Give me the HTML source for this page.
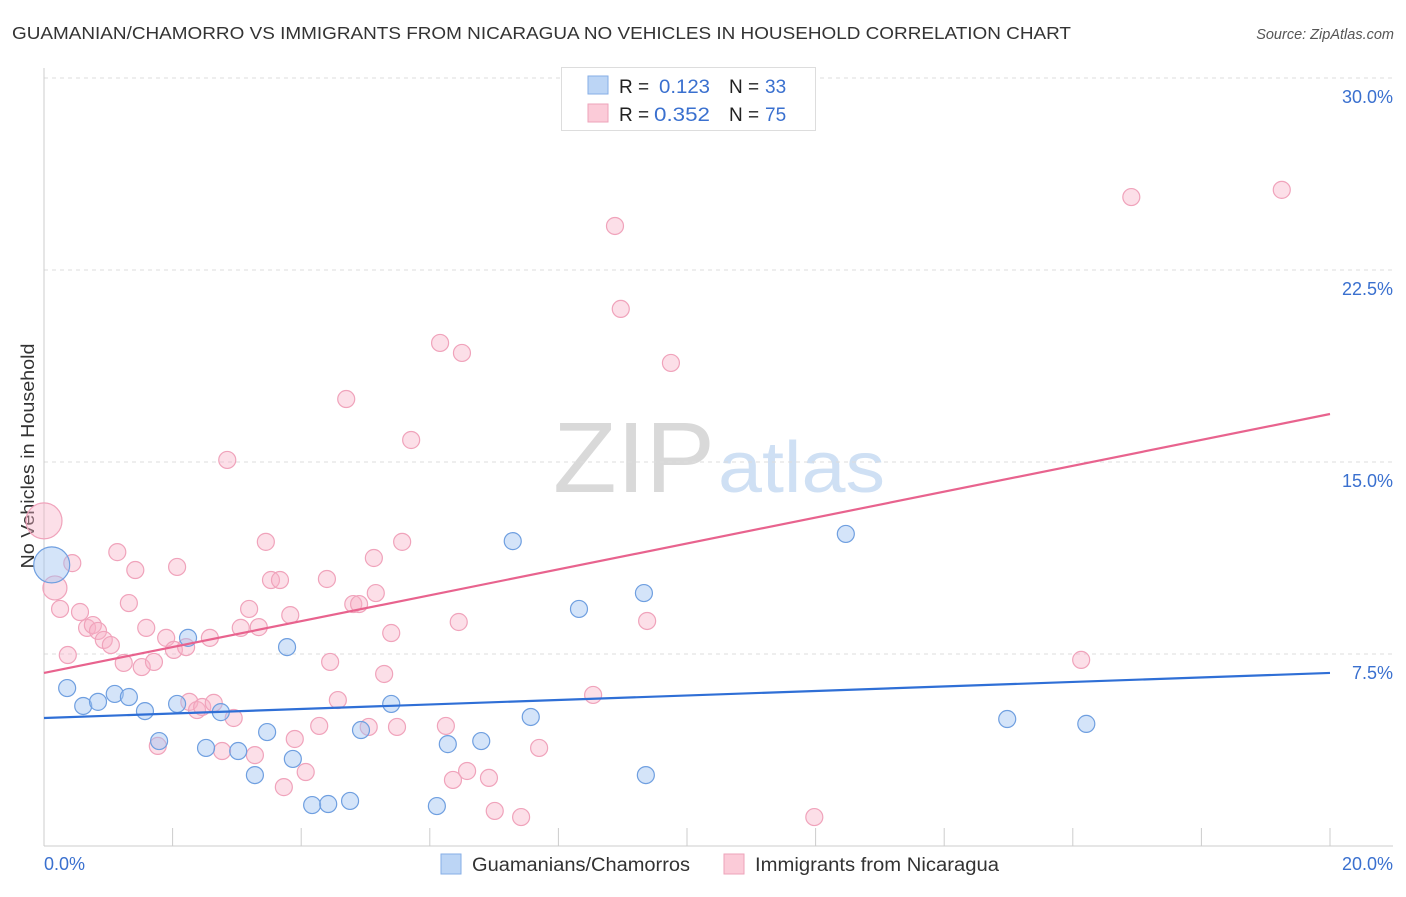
<!DOCTYPE html>
<html><head><meta charset="utf-8"><style>
body{margin:0;background:#fff;font-family:"Liberation Sans",sans-serif}
svg text{font-family:"Liberation Sans",sans-serif}
</style></head><body>
<svg id="chart" width="1406" height="892" viewBox="0 0 1406 892">
<text x="12" y="39" font-size="17.5" fill="#333" textLength="1059" lengthAdjust="spacingAndGlyphs">GUAMANIAN/CHAMORRO VS IMMIGRANTS FROM NICARAGUA NO VEHICLES IN HOUSEHOLD CORRELATION CHART</text>
<text x="1394" y="39" font-size="14.5" fill="#555" font-style="italic" text-anchor="end">Source: ZipAtlas.com</text>
<text transform="translate(34,456) rotate(-90)" font-size="18" fill="#333" text-anchor="middle" textLength="225" lengthAdjust="spacingAndGlyphs">No Vehicles in Household</text>
<g>
<text x="553" y="492" font-size="100" fill="#d9d9d9" font-family="Liberation Serif, serif" textLength="162" lengthAdjust="spacingAndGlyphs">ZIP</text>
<text x="718" y="492" font-size="72" fill="#cfe0f4" textLength="167" lengthAdjust="spacingAndGlyphs">atlas</text>
</g>
<g id="grid"></g>
<g id="axes"></g>
<g id="pts"></g>
<g id="trend"></g>
<g>
<rect x="561.5" y="67.5" width="254" height="63" fill="#fff" stroke="#ddd"/>
<rect x="588" y="76" width="20" height="18" fill="#bcd5f5" stroke="#86aee6"/>
<rect x="588" y="104" width="20" height="18" fill="#fbcbd8" stroke="#eea3ba"/>
<g font-size="19">
<text x="619" y="93" fill="#222">R =</text>
<text x="659" y="93" fill="#3a70cf" textLength="51" lengthAdjust="spacingAndGlyphs">0.123</text>
<text x="729" y="93" fill="#222">N =</text>
<text x="765" y="93" fill="#3a70cf">33</text>
<text x="619" y="121" fill="#222">R =</text>
<text x="654" y="121" fill="#3a70cf" textLength="56" lengthAdjust="spacingAndGlyphs">0.352</text>
<text x="729" y="121" fill="#222">N =</text>
<text x="765" y="121" fill="#3a70cf">75</text>
</g>
</g>
<g>
<rect x="441" y="854" width="20" height="20" fill="#bcd5f5" stroke="#86aee6"/>
<text x="472" y="871" font-size="19" fill="#333" textLength="218" lengthAdjust="spacingAndGlyphs">Guamanians/Chamorros</text>
<rect x="724" y="854" width="20" height="20" fill="#fbcbd8" stroke="#eea3ba"/>
<text x="755" y="871" font-size="19" fill="#333" textLength="244" lengthAdjust="spacingAndGlyphs">Immigrants from Nicaragua</text>
</g>
</svg>
<script>
const yTicks=[7.5,15,22.5,30];
const yTickLabels=["7.5%","15.0%","22.5%","30.0%"];
const xTickLabels=["0.0%","20.0%"];
const blueX=[0.12,0.36,0.61,0.84,1.10,1.32,1.57,1.79,2.07,2.24,2.52,2.75,3.02,3.28,3.47,3.78,3.87,4.17,4.42,4.76,4.93,5.40,6.11,6.28,6.80,7.29,7.57,8.32,9.33,9.36,12.47,14.98,16.21];
const blueY=[10.98,6.17,5.47,5.63,5.94,5.82,5.27,4.10,5.55,8.13,3.83,5.23,3.71,2.77,4.45,7.77,3.40,1.60,1.64,1.76,4.53,5.55,1.56,3.98,4.10,11.91,5.04,9.26,9.88,2.77,12.19,4.96,4.77];
const pinkX=[0,0.17,0.25,0.44,0.37,0.56,0.67,0.76,0.84,0.93,1.04,1.14,1.24,1.32,1.42,1.52,1.59,1.71,1.77,1.90,2.02,2.07,2.21,2.26,2.38,2.46,2.58,2.64,2.77,2.85,2.95,3.06,3.19,3.28,3.34,3.45,3.53,3.67,3.73,3.83,3.90,4.07,4.28,4.40,4.45,4.57,4.70,4.81,4.90,5.05,5.13,5.16,5.29,5.40,5.49,5.57,5.71,6.16,6.25,6.36,6.45,6.50,6.58,6.92,7.01,7.42,7.70,8.54,8.88,8.97,9.38,9.75,11.98,16.13,16.91,19.25];
const pinkY=[12.70,10.08,9.26,11.05,7.46,9.14,8.52,8.63,8.40,8.05,7.85,11.48,7.15,9.49,10.78,6.99,8.52,7.19,3.91,8.13,7.66,10.90,7.77,5.63,5.31,5.43,8.13,5.59,3.71,15.08,5.00,8.52,9.26,3.55,8.55,11.88,10.39,10.39,2.30,9.02,4.18,2.89,4.69,10.43,7.19,5.70,17.46,9.45,9.45,4.65,11.25,9.88,6.72,8.32,4.65,11.88,15.86,19.65,4.69,2.58,8.75,19.26,2.93,2.66,1.37,1.13,3.83,5.90,24.22,20.98,8.79,18.87,1.13,7.27,25.35,25.63];
const blueSize=[18];
const pinkSize=[18,12];
const blueTrend=[5.0,6.76];
const pinkTrend=[6.76,16.875];
const X0=44,X1=1330,Y0=846;
const sx=v=>X0+(X1-X0)*v/20;
const sy=v=>Y0-v*192/7.5;
const NS="http://www.w3.org/2000/svg";
function mk(tag,attrs,parent){const e=document.createElementNS(NS,tag);for(const k in attrs)e.setAttribute(k,attrs[k]);parent.appendChild(e);return e;}
const grid=document.getElementById('grid'),axes=document.getElementById('axes'),pts=document.getElementById('pts'),trend=document.getElementById('trend');
yTicks.forEach((t,i)=>{
 const l=mk('line',{x1:X0,x2:1393,y1:sy(t),y2:sy(t),stroke:'#ddd','stroke-dasharray':'4,4'},grid);
 
 
 const tx=mk('text',{x:1393,y:sy(t)+25,'font-size':18,fill:'#3a70cf','text-anchor':'end'},axes);
 tx.textContent=yTickLabels[i];
 
 
});
const ya=mk('line',{x1:X0,x2:X0,y1:68,y2:Y0,stroke:'#ccc'},axes);


const xa=mk('line',{x1:X0,x2:1393,y1:Y0,y2:Y0,stroke:'#ccc'},axes);


for(let i=1;i<=10;i++){
 const t=mk('line',{x1:sx(i*2),x2:sx(i*2),y1:828,y2:Y0,stroke:'#ccc'},axes);
 
 
}
[[0,'start',X0],[20,'end',1393]].forEach((d,i)=>{
 const tx=mk('text',{x:d[2],y:870,'font-size':18,fill:'#3a70cf','text-anchor':d[1]},axes);
 tx.textContent=xTickLabels[i];
 
 
});
pinkX.forEach((x,i)=>{
 const c=mk('circle',{cx:sx(x),cy:sy(pinkY[i]),r:pinkSize[i]||8.5,fill:'rgba(248,175,198,0.4)',stroke:'#f0a3bb','stroke-width':1.2},pts);
 
 
});
blueX.forEach((x,i)=>{
 const c=mk('circle',{cx:sx(x),cy:sy(blueY[i]),r:blueSize[i]||8.5,fill:'rgba(160,196,242,0.45)',stroke:'#6f9fe0','stroke-width':1.2},pts);
 
 
});
const tb=mk('line',{x1:sx(0),x2:sx(20),y1:sy(blueTrend[0]),y2:sy(blueTrend[1]),stroke:'#2f6fd6','stroke-width':2.2},trend);


const tp=mk('line',{x1:sx(0),x2:sx(20),y1:sy(pinkTrend[0]),y2:sy(pinkTrend[1]),stroke:'#e8638e','stroke-width':2.2},trend);


</script>
</body></html>
